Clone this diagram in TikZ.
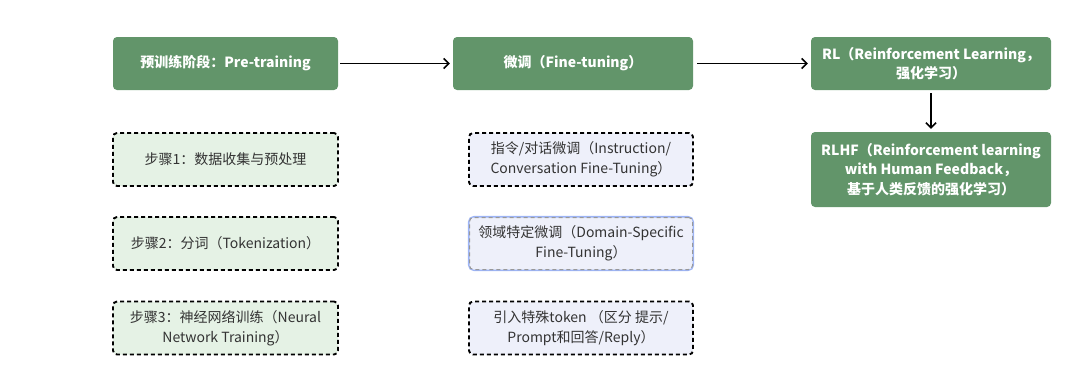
\documentclass[tikz,border=0pt]{standalone}
\usepackage{fontspec}
\setmainfont{Noto Sans CJK SC}
\usetikzlibrary{arrows.meta}
\definecolor{hgreen}{HTML}{62956A}
\definecolor{lgreen}{HTML}{E5F2E5}
\definecolor{lblue}{HTML}{EEF0FA}
\definecolor{txt}{HTML}{333333}
\definecolor{selblue}{HTML}{9DB4F5}
\tikzset{
  headbox/.style={fill=hgreen, rounded corners=4pt, text=white, font=\fontsize{14}{19.5}\selectfont\bfseries, align=center, inner sep=0pt},
  stepbox/.style={draw=black, line width=1.9pt, dash pattern=on 4pt off 3pt, rounded corners=4pt, text=txt, font=\fontsize{14}{20}\selectfont, align=center, inner sep=0pt},
  selbox/.style={draw=gray!80, line width=1pt, dash pattern=on 4pt off 3pt, rounded corners=4pt, text=txt, font=\fontsize{14}{20}\selectfont, align=center, inner sep=0pt},
  conn/.style={-{Straight Barb[length=5pt,width=10pt]}, line width=1.6pt, black},
}
\begin{document}
\begin{tikzpicture}[x=1pt,y=-1pt]
\useasboundingbox (0,0) rectangle (1080,380);
% header boxes
\node[headbox, minimum width=225pt, minimum height=53pt] (pre) at (225.5,63.5) {预训练阶段：Pre-training};
\node[headbox, minimum width=240pt, minimum height=53pt] (ft) at (573,63.5) {微调（Fine-tuning）};
\node[headbox, minimum width=240pt, minimum height=53pt] (rl) at (931,63.5) {RL（Reinforcement Learning，\\强化学习）};
\node[headbox, minimum width=240pt, minimum height=75pt] (rlhf) at (931,169.5) {RLHF（Reinforcement learning\\with Human Feedback，\\基于人类反馈的强化学习）};
\draw[conn] ([xshift=2pt]pre.east) -- ([xshift=-3pt]ft.west);
\draw[conn] ([xshift=4pt]ft.east) -- ([xshift=-3pt]rl.west);
\draw[conn] ([yshift=-3pt]rl.south) -- ([yshift=3pt]rlhf.north);
% left column
\node[stepbox, fill=lgreen, minimum width=225pt, minimum height=53pt] (s1) at (225.5,159.5) {步骤1：数据收集与预处理};
\node[stepbox, fill=lgreen, minimum width=225pt, minimum height=53pt] (s2) at (225.5,243.5) {步骤2：分词（Tokenization）};
\node[stepbox, fill=lgreen, minimum width=225pt, minimum height=53pt] (s3) at (225.5,328) {步骤3：神经网络训练（Neural\\Network Training）};
% middle column
\node[stepbox, fill=lblue, minimum width=224pt, minimum height=53pt] (f1) at (581,159.5) {指令/对话微调（Instruction/\\Conversation Fine-Tuning）};
\draw[selblue, line width=2.2pt, rounded corners=5pt] (469,217) rectangle (693,270);
\node[selbox, fill=lblue, minimum width=223pt, minimum height=52pt] (f2) at (581,243.5) {领域特定微调（Domain-Specific\\Fine-Tuning）};
\node[stepbox, fill=lblue, minimum width=224pt, minimum height=53pt] (f3) at (581,328) {引入特殊token （区分 提示/\\Prompt和回答/Reply）};
\end{tikzpicture}
\end{document}
